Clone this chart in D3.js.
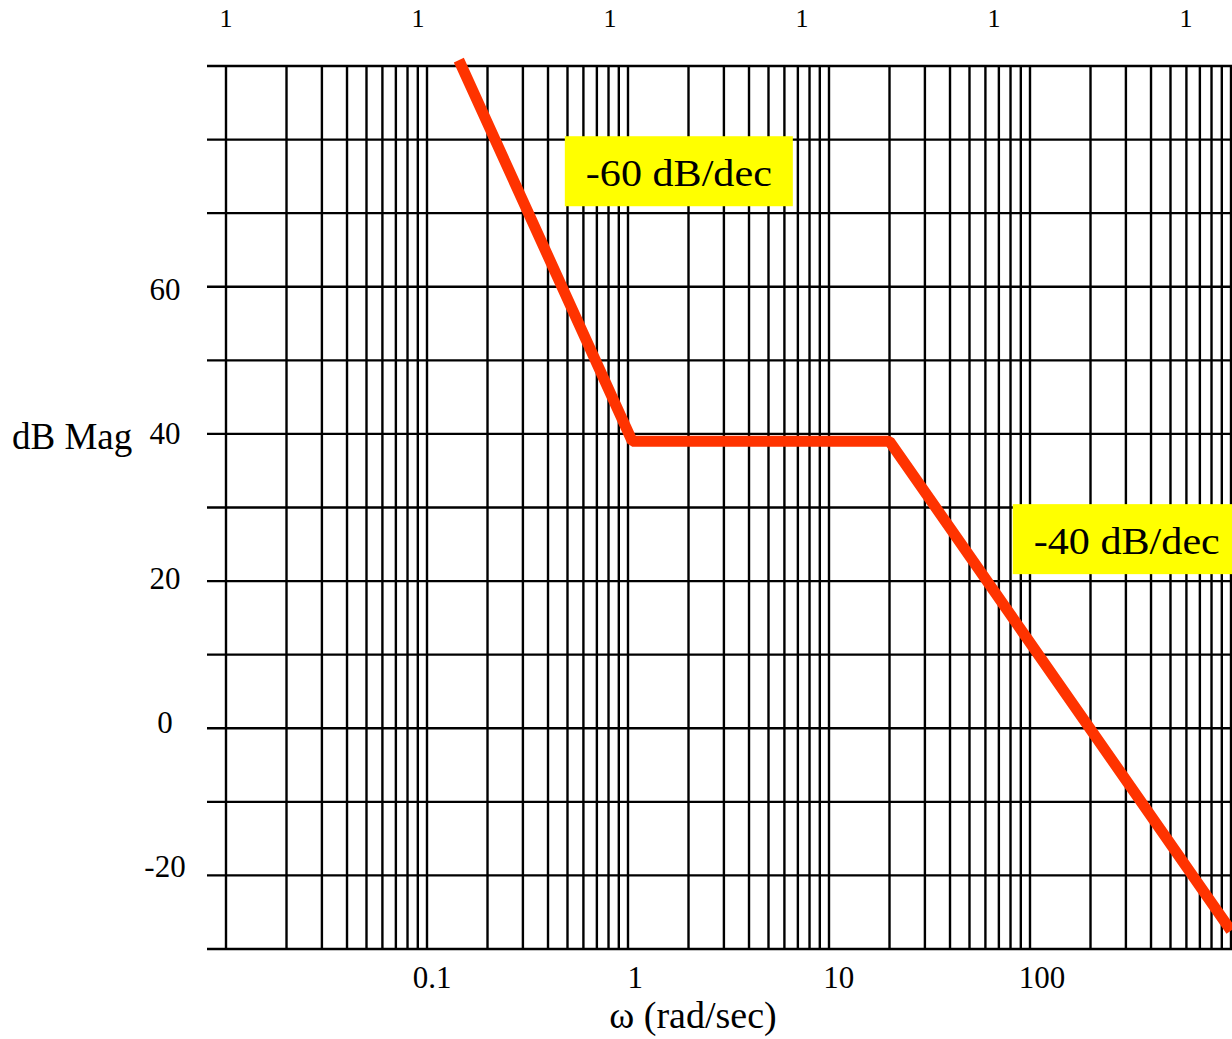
<!DOCTYPE html>
<html>
<head>
<meta charset="utf-8">
<script src="https://cdn.jsdelivr.net/npm/d3@7"></script>
<style>
  body { margin: 0; background: #fff; }
  text { font-family: "Liberation Serif", "Times New Roman", serif; fill: #000; }
</style>
</head>
<body>
<script>
// Asymptotic Bode magnitude (corner points)
var omega = [0.144, 1.05, 20, 1000];
var magDb = [90.8, 39, 39, -27.5];

// axis labels
var xTickLabels = [0.1, 1, 10, 100];
var yTickLabels = [60, 40, 20, 0, -20];
var topLabels = ["1", "1", "1", "1", "1", "1"];

// slope annotations
var annoText = ["-60 dB/dec", "-40 dB/dec"];
var annoOmega = [1.79, 303];
var annoDb = [75.7, 25.7];

var w = 1232;
var h = 1039;

var svg = d3.select("body").append("svg").attr("width", w).attr("height", h);

var xScale = d3.scaleLog().domain([0.01, 1000]).range([226, 1231]);
var yScale = d3.scaleLinear().domain([-30, 90]).range([949, 66]);

// label placement scales (labels in the original sit a little off the grid)
var xLabelScale = d3.scaleLog().domain([0.1, 100]).range([432, 1042]);
var yLabelScale = d3.scaleLinear().domain([-20, 60]).range([877, 300]);
var topScale = d3.scalePoint().domain(d3.range(topLabels.length)).range([226, 1186]);

var grid = svg.append("g").attr("stroke", "#000").attr("stroke-width", 2.4);

// vertical grid lines: 1..9 per decade
grid.selectAll("line.v")
    .data(xScale.ticks())
    .enter()
    .append("line")
    .attr("class", "v")
    .attr("x1", (d) => xScale(d))
    .attr("x2", (d) => xScale(d))
    .attr("y1", yScale(90))
    .attr("y2", yScale(-30));

// horizontal grid lines every 10 dB
grid.selectAll("line.h")
    .data(d3.range(-30, 91, 10))
    .enter()
    .append("line")
    .attr("class", "h")
    .attr("x1", 207)
    .attr("x2", w)
    .attr("y1", (d) => yScale(d))
    .attr("y2", (d) => yScale(d));

// the magnitude curve
var pts = omega.map((d, i) => [d, magDb[i]]);
var line = d3.line()
    .x((d) => xScale(d[0]))
    .y((d) => yScale(d[1]));

svg.append("path")
    .datum(pts)
    .attr("d", line)
    .attr("fill", "none")
    .attr("stroke", "#ff3300")
    .attr("stroke-width", 11)
    .attr("stroke-linejoin", "bevel");

// annotation boxes
var anno = svg.selectAll("g.anno")
    .data(annoText)
    .enter()
    .append("g")
    .attr("class", "anno")
    .attr("transform", (d, i) => "translate(" + xScale(annoOmega[i]) + "," + yScale(annoDb[i]) + ")");

anno.append("rect")
    .attr("x", -114)
    .attr("y", -35)
    .attr("width", 228)
    .attr("height", 70)
    .attr("fill", "#ffff00");

anno.append("text")
    .text((d) => d)
    .attr("x", 0)
    .attr("y", 15)
    .attr("text-anchor", "middle")
    .attr("font-size", "37px")
    .attr("textLength", 186)
    .attr("lengthAdjust", "spacingAndGlyphs");

// x tick labels
svg.selectAll("text.xt")
    .data(xTickLabels)
    .enter()
    .append("text")
    .attr("class", "xt")
    .text((d) => d)
    .attr("x", (d) => xLabelScale(d))
    .attr("y", 988)
    .attr("text-anchor", "middle")
    .attr("font-size", "31px");

// y tick labels
svg.selectAll("text.yt")
    .data(yTickLabels)
    .enter()
    .append("text")
    .attr("class", "yt")
    .text((d) => d)
    .attr("x", 165)
    .attr("y", (d) => yLabelScale(d))
    .attr("text-anchor", "middle")
    .attr("font-size", "31px");

// stray labels along the top
svg.selectAll("text.top")
    .data(topLabels)
    .enter()
    .append("text")
    .attr("class", "top")
    .text((d) => d)
    .attr("x", (d, i) => topScale(i))
    .attr("y", 27)
    .attr("text-anchor", "middle")
    .attr("font-size", "26px");

// axis titles
svg.append("text")
    .text("dB Mag")
    .attr("x", 12)
    .attr("y", 449)
    .attr("font-size", "37px");

svg.append("text")
    .text("\u03c9 (rad/sec)")
    .attr("x", 693)
    .attr("y", 1028)
    .attr("text-anchor", "middle")
    .attr("font-size", "38px");
</script>
</body>
</html>
